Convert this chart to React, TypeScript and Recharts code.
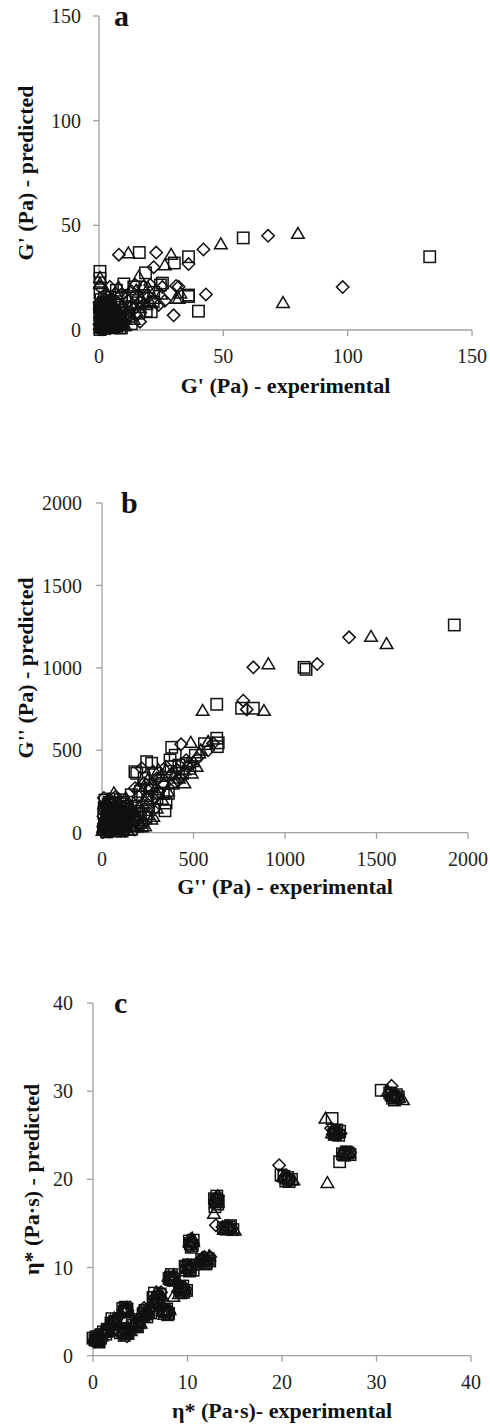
import React from 'react';
import { ScatterChart, Scatter, XAxis, YAxis } from 'recharts';

type P = [number, number];

// ---------------- Panel a : G' ----------------
const aTicks = [0, 50, 100, 150];
const aDiamond: P[] = [
  [98, 20.5], [68, 45], [42, 38.5], [43, 17], [36, 31.5], [30, 7], [31, 21], [23, 37], [22, 30], [26.5, 14],
  [25.5, 20.5], [8, 36], [0.4, 20.5], [4.4, 20.6], [17.8, 20.6], [16.5, 13.5], [16.5, 4], [14.6, 21.5], [20.6, 21.5], [32, 20.7],
  [5, 15], [8, 12.5], [12, 14], [14, 10], [18, 12], [10, 8.5], [20, 16], [13, 18.5], [24, 12], [15, 7], [9, 17], [3.5, 16], [11, 5],
  [0.3, 0.5], [0.8, 1.5], [1.5, 0.4], [2.2, 2.5], [0.5, 3.2], [3, 1.2], [1.2, 4.5], [2.8, 4], [4, 2.8], [0.4, 6], [1.8, 6.8],
  [3.5, 5.8], [5, 4.5], [4.6, 1], [6, 2.5], [2.5, 8.5], [0.7, 9.5], [4.2, 8], [5.8, 6.5], [7, 4.2], [1.4, 11.5], [3.2, 10.5],
  [6.5, 9], [8, 6.5], [7.5, 1.5], [9.5, 3], [0.2, 13], [5.2, 11.5],
  [0.6, 2.2], [1.9, 1.2], [2.9, 2.8], [3.8, 4.2], [1.1, 5.6], [2.3, 7.2], [3.9, 6.6], [0.9, 8.4], [4.8, 7.1], [5.6, 5.2],
  [6.3, 3.2], [5.8, 1.4], [7.8, 2.6], [1.3, 3.3], [2.7, 0.6], [4.3, 3.6], [0.5, 11.8], [2.1, 12.3], [3.4, 9.2], [6.9, 5.6],
  [8.8, 4.6], [7.4, 7.8], [1.6, 10.1], [5.1, 8.6],
];
const aSquare: P[] = [
  [133, 35], [58, 44], [40, 9], [36, 16], [36, 35], [30.3, 32], [25.5, 22.4], [21, 8.7], [18.7, 27.3], [16.2, 37],
  [0.4, 28], [0.4, 17.8], [0.4, 24.7], [10, 22], [14, 20.6], [13.7, 15.9], [21.8, 13.4], [8.4, 1], [24.7, 21.5], [36, 16.7],
  [6, 12], [9, 15], [11, 10.5], [15, 13], [18, 16.5], [12, 6.5], [22, 18], [19, 9], [4, 14], [7, 19], [13, 3], [16, 8],
  [0.4, 0.2], [1.1, 2], [2, 0.8], [0.6, 4], [2.6, 3.2], [3.6, 1.8], [1.6, 5.5], [3.2, 6.8], [4.4, 4.2], [0.3, 7.8], [2.1, 9.5],
  [5.4, 2.2], [5.6, 7.8], [4, 10], [6.8, 5.5], [1, 12], [7.5, 3], [3, 12.5], [8.5, 8], [6.2, 10.8], [9, 1], [0.8, 14.5],
  [10.5, 5.5], [2.2, 15.5],
  [1.4, 1.2], [2.8, 2.1], [3.1, 4.6], [0.9, 5.3], [2.1, 6.2], [4.6, 5.9], [1.3, 8.8], [3.5, 8.1], [4.9, 3.3], [6.1, 4.4],
  [5.9, 1.1], [7.2, 2.2], [0.2, 10.9], [2.6, 10.8], [4.7, 9], [6.4, 6.9], [7.7, 5.2], [8.8, 2.8], [1.8, 13.2], [3.9, 11.8],
  [0.5, 2.9], [2.4, 4.3], [5.2, 6.5], [9.6, 4.4],
];
const aTriangle: P[] = [
  [74, 13], [80, 46], [49, 41], [31, 15], [29, 36], [26.5, 31], [11.8, 36.7], [16, 25.5], [0.4, 25], [0.4, 22],
  [7.8, 20.5], [19.8, 20], [20.5, 13.4], [16.5, 10.5], [10.5, 2], [32.7, 17.5], [32, 15],
  [5, 10], [9, 11], [13, 12], [17, 15], [11, 16], [14, 5], [8, 4], [22, 15], [25, 17], [19, 12], [7, 17], [15, 19], [3, 18],
  [0.5, 0.8], [1.4, 1], [0.9, 2.8], [2.4, 1.6], [1.8, 3.8], [3.4, 3], [0.3, 5], [2.6, 5.2], [4.2, 5.4], [5.2, 3.4], [1.2, 7.5],
  [3.6, 8.5], [5, 6], [6.4, 3.8], [0.6, 10.5], [2.8, 11], [4.8, 9.2], [7.2, 6.5], [6.8, 1.2], [8.4, 4], [1.6, 13.5],
  [5.8, 12.5], [9.2, 6.8], [11, 9],
  [0.7, 1.9], [2, 2.6], [3, 0.7], [4, 1.9], [1.1, 4.2], [3.1, 4.4], [4.4, 4.6], [0.5, 6.7], [2.1, 6.4], [3.2, 7.3],
  [5.6, 4.9], [6, 2.3], [7.6, 3.6], [0.9, 9], [2.4, 9.7], [4.2, 10.6], [5.6, 8], [6.8, 8.4], [8, 5.7], [0.4, 12.5],
  [3.3, 13], [9.8, 2], [1.6, 0.5], [5, 1.6],
];

// ---------------- Panel b : G'' ----------------
const bTicks = [0, 500, 1000, 1500, 2000];
const bDiamond: P[] = [
  [1350, 1185], [1176, 1023], [827, 1003], [791, 748], [772, 801], [607, 542], [432, 536], [280, 138], [217, 391], [399, 309],
  [253, 168], [460, 440], [380, 350], [300, 330], [230, 300], [340, 290], [410, 380], [520, 450], [470, 400], [350, 400],
  [280, 370], [240, 270], [200, 220], [310, 250], [430, 330], [580, 500], [270, 200], [180, 270],
  [5, 5], [20, 15], [40, 8], [10, 40], [35, 35], [60, 20], [15, 80], [50, 65], [80, 45], [100, 15], [30, 120], [70, 100],
  [110, 70], [130, 40], [20, 160], [60, 145], [95, 125], [140, 95], [160, 60], [180, 20], [45, 190], [120, 160], [170, 120],
  [200, 85], [10, 210], [85, 185], [150, 150], [215, 130], [230, 60], [75, 220],
  [12, 25], [28, 50], [48, 40], [65, 55], [85, 25], [22, 70], [42, 85], [62, 115], [88, 80], [105, 45], [30, 140], [52, 170],
  [75, 160], [110, 100], [135, 65], [8, 100], [18, 135], [120, 130], [155, 105], [185, 70], [205, 45], [90, 150], [35, 60], [125, 10],
];
const bSquare: P[] = [
  [1925, 1260], [1104, 1003], [1115, 991], [827, 755], [763, 755], [627, 779], [630, 522], [627, 573], [635, 545], [381, 518],
  [344, 133], [363, 239], [335, 239], [308, 239], [271, 421], [244, 431], [180, 370], [190, 360], [372, 441], [377, 400],
  [400, 470], [420, 410], [460, 420], [290, 360], [330, 300], [230, 330], [300, 210], [350, 180], [265, 290], [440, 360],
  [510, 470], [560, 540], [480, 390], [210, 250], [160, 230], [250, 200], [390, 300],
  [8, 20], [25, 5], [45, 25], [15, 55], [55, 45], [75, 10], [30, 95], [65, 75], [95, 40], [120, 25], [10, 120], [45, 130],
  [85, 110], [125, 85], [150, 45], [35, 170], [105, 150], [145, 125], [175, 90], [195, 40], [60, 205], [135, 185], [180, 150],
  [210, 110], [240, 90], [16, 198], [100, 200], [255, 140],
  [18, 40], [38, 15], [58, 35], [82, 60], [100, 85], [25, 75], [50, 105], [72, 130], [95, 95], [130, 55], [160, 20], [12, 150],
  [40, 185], [68, 170], [115, 175], [140, 150], [165, 75], [195, 130], [220, 40], [28, 115], [55, 150], [110, 10], [80, 30], [150, 110],
];
const bTriangle: P[] = [
  [1555, 1145], [1470, 1189], [909, 1023], [885, 740], [550, 740], [580, 552], [485, 546], [532, 482], [517, 400], [490, 360],
  [280, 97], [308, 380], [299, 148], [244, 218], [450, 380], [470, 420], [350, 380], [260, 280], [420, 330], [380, 300],
  [330, 200], [500, 430], [540, 500], [400, 360], [290, 260], [220, 180], [320, 340], [450, 300], [360, 250], [250, 320], [200, 280],
  [3, 12], [18, 28], [32, 18], [8, 65], [42, 50], [70, 35], [22, 105], [58, 90], [90, 65], [115, 30], [140, 12], [40, 150],
  [78, 135], [115, 115], [150, 80], [175, 45], [25, 185], [95, 170], [160, 140], [190, 110], [220, 70], [65, 240], [130, 210],
  [200, 160], [245, 110], [270, 80],
  [10, 30], [25, 45], [50, 30], [70, 60], [95, 20], [15, 90], [35, 75], [55, 125], [80, 100], [100, 55], [125, 70], [30, 165],
  [60, 185], [85, 150], [105, 135], [130, 100], [165, 120], [185, 85], [210, 55], [235, 40], [45, 110], [75, 15], [12, 175], [140, 170],
];

// ---------------- Panel c : eta* ----------------
const cTicks = [0, 10, 20, 30, 40];
const cDiamond: P[] = [
  [0.1, 1.7], [0.4, 1.9], [0.7, 2.1], [0.3, 1.6], [0.8, 1.8], [0.5, 2.3],
  [1.0, 2.5], [1.4, 2.9], [1.7, 3.2], [1.25, 2.65],
  [1.8, 3.5], [2.2, 4.0], [2.5, 4.2], [2.05, 3.75],
  [3.2, 5.2], [3.5, 5.4], [3.3, 4.95], [3.65, 5.1],
  [3.0, 2.4], [3.4, 2.7], [3.8, 2.9], [3.2, 3.0], [3.6, 2.2],
  [4.2, 3.2], [4.6, 3.6], [5.0, 3.9], [4.4, 3.45], [4.85, 3.3],
  [5.2, 4.5], [5.6, 4.9], [6.0, 5.3], [5.4, 5.4], [5.75, 4.6],
  [6.3, 5.8], [6.6, 6.4], [6.9, 6.9], [7.2, 7.2], [6.75, 6.15], [7.05, 6.55],
  [7.5, 4.8], [7.9, 5.1], [7.65, 5.25], [8.05, 4.9],
  [8.1, 8.6], [8.5, 9.0], [8.25, 8.85], [8.6, 8.5],
  [9.0, 7.3], [9.4, 7.7], [9.8, 7.6], [9.25, 7.55], [9.6, 7.35],
  [9.8, 9.8], [10.2, 10.1], [10.0, 10.3], [10.35, 9.85],
  [10.2, 12.4], [10.5, 12.9], [10.35, 13.2], [10.6, 12.6],
  [11.3, 10.8], [11.8, 11.2], [12.4, 11.2], [11.55, 11.05], [12.1, 10.9],
  [12.9, 17.4], [13.1, 17.9], [13.0, 17.65], [13.2, 18.1],
  [13.0, 14.8], [13.7, 14.6], [14.3, 14.4], [14.0, 14.65], [14.6, 14.55],
  [19.7, 21.6], [20.3, 20.1], [20.8, 19.9], [20.55, 20.25],
  [25.2, 25.8], [25.7, 25.4], [26.2, 25.2], [25.45, 25.55], [25.95, 25.05],
  [26.5, 23.0], [27.0, 22.8], [26.75, 23.1], [27.2, 23.05],
  [31.6, 30.6], [31.9, 29.5], [32.2, 29.2], [31.75, 29.3], [32.05, 29.6],
];
const cSquare: P[] = [
  [0.2, 1.8], [0.5, 1.7], [0.8, 2.0], [0.0, 2.0], [0.35, 2.15], [0.65, 1.55],
  [1.1, 2.7], [1.5, 3.0], [0.9, 2.4], [1.35, 2.45], [1.6, 2.8],
  [1.9, 3.7], [2.3, 3.9], [2.0, 4.2], [2.15, 3.55], [2.45, 3.8],
  [3.3, 5.0], [3.6, 5.3], [3.4, 5.5], [3.15, 5.35], [3.5, 5.15],
  [2.9, 2.6], [3.3, 2.3], [3.7, 2.6], [3.5, 3.0], [3.15, 2.75], [3.85, 3.1],
  [4.3, 3.5], [4.7, 3.3], [4.9, 4.1], [4.55, 3.85], [4.15, 3.7],
  [5.3, 4.7], [5.7, 4.4], [5.9, 5.0], [5.5, 5.15], [6.1, 4.85],
  [6.4, 6.1], [6.8, 6.6], [7.1, 7.0], [6.5, 7.1], [6.6, 5.7], [7.0, 6.2], [6.35, 6.6],
  [7.6, 5.0], [8.0, 4.8], [7.8, 5.3], [7.45, 5.1], [7.9, 4.65],
  [8.2, 8.9], [8.6, 8.7], [8.3, 9.2], [8.05, 8.75], [8.45, 8.55],
  [9.2, 7.5], [9.6, 7.2], [9.9, 7.4], [9.5, 7.9], [9.35, 7.15], [9.15, 7.8],
  [9.9, 10.0], [10.3, 9.8], [10.6, 9.7], [10.1, 10.3], [9.75, 10.15], [10.2, 9.6],
  [10.3, 12.7], [10.6, 13.1], [10.4, 12.3], [10.2, 13.0], [10.5, 12.5],
  [11.5, 10.9], [12.0, 10.5], [11.9, 10.4], [12.2, 11.0], [11.7, 10.7], [12.35, 10.75],
  [13.0, 17.6], [13.2, 17.2], [12.9, 16.9], [13.1, 18.1], [12.85, 17.8], [13.25, 17.55],
  [13.8, 14.5], [14.4, 14.6], [14.8, 14.3], [14.1, 14.35], [14.55, 14.75],
  [19.9, 20.5], [20.4, 19.8], [21.0, 20.0], [20.6, 20.2], [20.2, 20.35], [20.75, 19.75],
  [25.3, 26.9], [25.5, 25.3], [26.0, 25.0], [25.8, 25.6], [25.6, 25.1], [26.1, 25.45],
  [26.1, 22.0], [26.4, 22.9], [26.8, 23.1], [27.2, 22.8], [26.6, 22.75], [27.0, 23.0],
  [30.5, 30.1], [31.4, 29.8], [31.7, 29.2], [32.1, 29.6], [31.9, 29.0], [31.55, 29.55], [32.3, 29.35],
];
const cTriangle: P[] = [
  [0.3, 2.0], [0.6, 1.8], [0.9, 2.2], [0.1, 1.9], [0.45, 1.65], [0.2, 2.25],
  [1.3, 2.6], [1.6, 3.1], [1.2, 2.9], [1.0, 2.75], [1.45, 2.75],
  [2.1, 3.6], [2.4, 4.1], [1.7, 3.4], [1.85, 3.95], [2.25, 4.25],
  [3.3, 5.3], [3.5, 5.1], [3.2, 5.05], [3.6, 5.45], [3.45, 5.25],
  [3.1, 2.8], [3.6, 2.4], [4.0, 2.8], [3.35, 2.5], [3.7, 2.85],
  [4.4, 3.8], [4.8, 3.6], [4.1, 3.3], [4.6, 3.15], [5.05, 3.65],
  [5.5, 4.6], [5.8, 5.2], [5.1, 4.9], [5.35, 4.35], [5.65, 4.75],
  [6.5, 5.9], [6.9, 6.3], [7.3, 6.8], [6.7, 7.2], [6.45, 6.45], [6.85, 6.85],
  [7.7, 4.9], [8.1, 5.2], [7.55, 4.65], [7.85, 5.05],
  [8.4, 8.8], [8.0, 9.0], [8.3, 8.5], [8.55, 9.15], [8.5, 6.7],
  [9.3, 7.4], [9.7, 7.8], [9.1, 7.0], [9.45, 7.6], [9.75, 7.45],
  [10.0, 9.9], [10.4, 10.2], [9.85, 9.6], [10.15, 10.05],
  [10.4, 12.6], [10.5, 13.3], [10.25, 12.85], [10.6, 12.9],
  [11.6, 11.1], [12.1, 10.8], [11.2, 10.6], [11.85, 10.9], [12.3, 11.3],
  [13.0, 17.8], [12.8, 16.1], [13.2, 17.4], [12.95, 17.3],
  [14.0, 14.5], [14.6, 14.4], [15.0, 14.2], [14.25, 14.7], [13.85, 14.3],
  [20.1, 20.3], [20.7, 19.9], [21.2, 19.9], [20.45, 20.05],
  [24.6, 26.9], [25.4, 25.6], [26.0, 25.3], [25.6, 25.0], [25.85, 25.2], [25.3, 25.25],
  [26.6, 22.7], [27.1, 23.0], [24.8, 19.6], [26.85, 22.85], [26.45, 23.05],
  [31.2, 30.0], [31.8, 29.4], [32.4, 29.3], [32.8, 29.0], [32.0, 29.15], [31.6, 29.7],
];

const SERIF = '"Liberation Serif", "Times New Roman", Times, serif';
const INK = '#111';
const AXIS = '#a0a0a0';
const SW = 1.5;

const toPts = (arr: P[]) => arr.map(([x, y]) => ({ x, y }));

function DiamondShape(props: any) {
  const { cx, cy } = props;
  if (cx == null || cy == null) return null;
  const r = 6.2;
  return (
    <path d={`M${cx},${cy - r}L${cx + r},${cy}L${cx},${cy + r}L${cx - r},${cy}Z`} fill="none" stroke={INK} strokeWidth={SW} />
  );
}
function SquareShape(props: any) {
  const { cx, cy } = props;
  if (cx == null || cy == null) return null;
  const h = 5.7;
  return <rect x={cx - h} y={cy - h} width={2 * h} height={2 * h} fill="none" stroke={INK} strokeWidth={SW} />;
}
function TriangleShape(props: any) {
  const { cx, cy } = props;
  if (cx == null || cy == null) return null;
  return (
    <path d={`M${cx},${cy - 6.2}L${cx + 6.3},${cy + 4.6}L${cx - 6.3},${cy + 4.6}Z`} fill="none" stroke={INK} strokeWidth={SW} />
  );
}

type PanelProps = {
  top: number;
  height: number;
  margin: { top: number; right: number; bottom: number; left: number };
  yWidth: number;
  xHeight: number;
  domain: [number, number];
  ticks: number[];
  xLabel: string;
  yLabel: string;
  xLabelOffset: number;
  yLabelOffset: number;
  yTickMargin: number;
  diamonds: P[];
  squares: P[];
  triangles: P[];
};

function Panel(p: PanelProps) {
  const tickStyle = { fontSize: 20, fontFamily: SERIF, fill: '#231f20' };
  const labelStyle = { fontSize: 22, fontFamily: SERIF, fontWeight: 'bold' as const, fill: INK };
  return (
    <div style={{ position: 'absolute', left: 0, top: p.top, width: 490, height: p.height }}>
      <ScatterChart width={490} height={p.height} margin={p.margin}>
        <XAxis
          type="number"
          dataKey="x"
          domain={p.domain}
          ticks={p.ticks}
          interval={0}
          height={p.xHeight}
          tick={tickStyle}
          tickSize={6}
          tickMargin={13}
          axisLine={{ stroke: AXIS, strokeWidth: 1.3 }}
          tickLine={{ stroke: AXIS, strokeWidth: 1.3 }}
          label={{ value: p.xLabel, position: 'insideBottom', offset: p.xLabelOffset, style: labelStyle }}
        />
        <YAxis
          type="number"
          dataKey="y"
          domain={p.domain}
          ticks={p.ticks}
          interval={0}
          width={p.yWidth}
          tick={tickStyle}
          tickSize={6}
          tickMargin={p.yTickMargin}
          axisLine={{ stroke: AXIS, strokeWidth: 1.3 }}
          tickLine={{ stroke: AXIS, strokeWidth: 1.3 }}
          label={{
            value: p.yLabel,
            angle: -90,
            position: 'insideLeft',
            offset: p.yLabelOffset,
            style: { ...labelStyle, textAnchor: 'middle' },
          }}
        />
        <Scatter data={toPts(p.diamonds)} shape={DiamondShape} isAnimationActive={false} />
        <Scatter data={toPts(p.squares)} shape={SquareShape} isAnimationActive={false} />
        <Scatter data={toPts(p.triangles)} shape={TriangleShape} isAnimationActive={false} />
      </ScatterChart>
    </div>
  );
}

const letterStyle = (left: number, top: number): React.CSSProperties => ({
  position: 'absolute',
  left,
  top,
  fontFamily: SERIF,
  fontWeight: 'bold',
  fontSize: 30,
  lineHeight: '30px',
  color: INK,
});

export default function App() {
  return (
    <div style={{ position: 'absolute', left: 0, top: 0, width: 490, height: 1427, background: '#fff' }}>
      <Panel
        top={0}
        height={410}
        margin={{ top: 16, right: 18, bottom: 10, left: 0 }}
        yWidth={99}
        xHeight={70}
        domain={[0, 150]}
        ticks={aTicks}
        xLabel="G' (Pa) - experimental"
        yLabel="G' (Pa) - predicted"
        xLabelOffset={7}
        yLabelOffset={25}
        yTickMargin={12}
        diamonds={aDiamond}
        squares={aSquare}
        triangles={aTriangle}
      />
      <Panel
        top={460}
        height={450}
        margin={{ top: 43, right: 22, bottom: 7.3, left: 0 }}
        yWidth={102}
        xHeight={70}
        domain={[0, 2000]}
        ticks={bTicks}
        xLabel="G'' (Pa) - experimental"
        yLabel="G'' (Pa) - predicted"
        xLabelOffset={8.7}
        yLabelOffset={25}
        yTickMargin={14}
        diamonds={bDiamond}
        squares={bSquare}
        triangles={bTriangle}
      />
      <Panel
        top={960}
        height={467}
        margin={{ top: 43, right: 19, bottom: 6.3, left: 0 }}
        yWidth={93}
        xHeight={65}
        domain={[0, 40]}
        ticks={cTicks}
        xLabel="η* (Pa·s)- experimental"
        yLabel="η* (Pa·s) - predicted"
        xLabelOffset={2.4}
        yLabelOffset={31}
        yTickMargin={14}
        diamonds={cDiamond}
        squares={cSquare}
        triangles={cTriangle}
      />
      <div style={letterStyle(114, 1)}>a</div>
      <div style={letterStyle(121, 488)}>b</div>
      <div style={letterStyle(114, 988)}>c</div>
    </div>
  );
}
